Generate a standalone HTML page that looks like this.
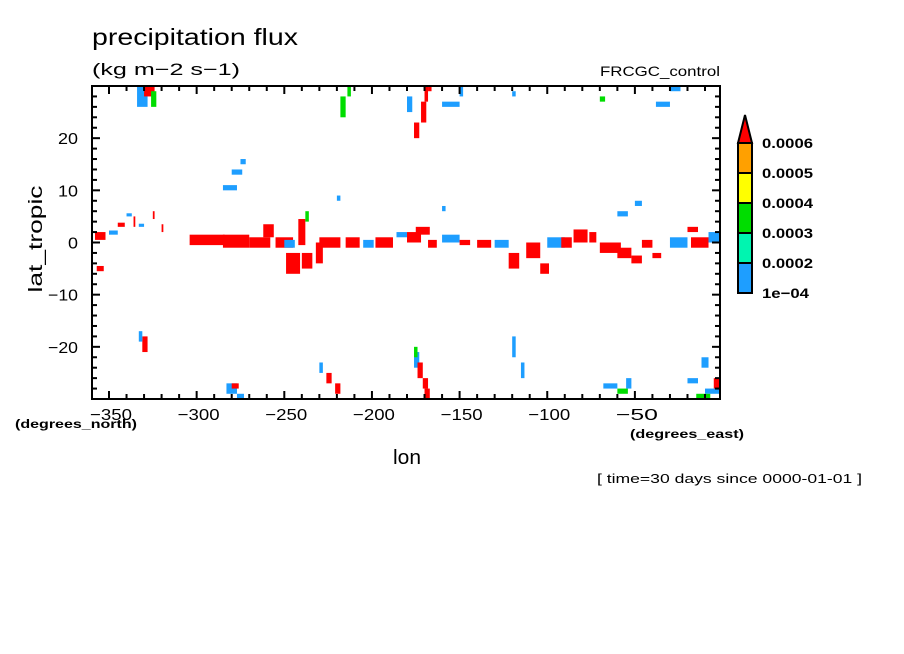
<!DOCTYPE html>
<html><head><meta charset="utf-8"><style>
html,body{margin:0;padding:0;background:#fff;}
svg{display:block;font-family:"Liberation Sans",sans-serif;}
</style></head><body>
<svg id="chart" width="904" height="654" viewBox="0 0 904 654">
<rect x="0" y="0" width="904" height="654" fill="#fff"/>
<text x="92" y="45" font-size="23" textLength="206" lengthAdjust="spacingAndGlyphs">precipitation flux</text>
<text x="92" y="75" font-size="17" textLength="148" lengthAdjust="spacingAndGlyphs">(kg m−2 s−1)</text>
<text x="600" y="76" font-size="14" textLength="120" lengthAdjust="spacingAndGlyphs">FRCGC_control</text>
<g id="cells"></g>
<g id="axes"></g>
<rect x="92" y="86" width="628" height="313" fill="none" stroke="#000" stroke-width="2"/>
<text x="42" y="239" font-size="19" text-anchor="middle" textLength="107" lengthAdjust="spacingAndGlyphs" transform="rotate(-90 42 239)">lat_tropic</text>
<text x="15" y="428" font-size="12" font-weight="bold" textLength="122" lengthAdjust="spacingAndGlyphs">(degrees_north)</text>
<text x="630" y="438" font-size="12" font-weight="bold" textLength="114" lengthAdjust="spacingAndGlyphs">(degrees_east)</text>
<text x="393" y="464" font-size="20" textLength="28" lengthAdjust="spacingAndGlyphs">lon</text>
<text x="597" y="483" font-size="13" textLength="265" lengthAdjust="spacingAndGlyphs">[ time=30 days since 0000-01-01 ]</text>
<g id="legend"></g>
</svg>
<script>
const levelColors = ["#1e9eff","#00f5b0","#00dd00","#ffff00","#ffa000","#ff0000"];
const levelLabels = ["1e-04","0.0002","0.0003","0.0004","0.0005","0.0006"];
const xTicks = [-350,-300,-250,-200,-150,-100,-50];
const yTicks = [-20,-10,0,10,20];
// patches: lon (west edge), lat (south edge), width (deg lon), height (deg lat), level 1..6
const patchLon = [-358,-357,-350,-345,-340,-336,-333,-325,-320,-304,-285,-270,-262,-255,-250,-242,-238,-249,-240,-232,-230,-215,-205,-198,-186,-180,-175,-168,-160,-150,-140,-130,-122,-112,-104,-100,-92,-85,-76,-70,-60,-52,-46,-40,-30,-18,-8,-20,
 -334,-330,-326,-218,-214,-176,-172,-170,-168,-180,-160,-150,-120,-70,-38,-30,-285,-280,-275,-220,-160,-60,-50,
 -331,-333,-283,-280,-277,-230,-226,-221,-176,-174,-171,-170,-176,-120,-115,-68,-60,-55,-20,-10,-12,-5,-15];
const patchLat = [0.5,-5.5,1.5,3,5,3,3,4.5,2,-0.5,-1,-1,1,-1,-1,-0.5,4,-6,-5,-4,-1,-1,-1,-1,1,0,1.5,-1,0,-0.5,-1,-1,-5,-3,-6,-1,-1,0,0,-2,-3,-4,-1,-3,-1,-1,0,2,
 26,28,26,24,28,20,23,27,29,25,26,28,28,27,26,29,10,13,15,8,6,5,7,
 -21,-19,-29,-28,-30,-25,-27,-29,-24,-26,-28,-30,-22,-22,-26,-28,-29,-28,-27,-29,-24,-28,-30];
const patchW = [6,4,5,4,3,1,3,1,1,20,15,12,6,10,6,4,2,8,6,4,12,8,6,10,6,8,8,5,10,6,8,8,6,8,5,10,6,8,4,12,8,6,6,5,10,10,6,6,
 6,6,3,3,2,3,3,2,2,3,10,2,2,3,8,6,8,6,3,2,2,6,4,
 3,2,6,4,4,2,3,3,3,3,3,3,2,2,2,8,6,3,6,8,4,3,8];
const patchH = [1.5,1,0.8,0.8,0.6,2,0.6,1.5,1.5,2,2.5,2,2.5,2,1.5,5,2,4,3,4,2,2,1.5,2,1,2,1.5,1.5,1.5,1,1.5,1.5,3,3,2,2,2,2.5,2,2,2,1.5,1.5,1,2,2,2,1,
 4,2,3,4,2,3,4,3,1,3,1,2,1,1,1,1,1,1,1,1,1,1,1,
 3,2,2,1,1,2,2,2,3,3,2,2,2,4,3,1,1,2,1,1,2,2,1];
const patchLevel = [6,6,1,6,1,6,1,6,6,6,6,6,6,6,1,6,3,6,6,6,6,6,1,6,1,6,6,6,1,6,6,1,6,6,6,1,6,6,6,6,6,6,6,6,1,6,1,6,
 1,6,3,3,3,6,6,6,6,1,1,1,1,3,1,1,1,1,1,1,1,1,1,
 6,1,1,6,1,1,6,6,1,6,6,6,3,1,1,1,3,1,1,1,1,6,3];

const PX0=92, PX1=720, PY0=86, PY1=399;
const LON0=-359.7, LON1=-1.45, LAT0=-30, LAT1=30;
function xScale(v){return PX0+(v-LON0)/(LON1-LON0)*(PX1-PX0);}
function yScale(v){return PY1-(v-LAT0)/(LAT1-LAT0)*(PY1-PY0);}
const NS="http://www.w3.org/2000/svg";
function mk(tag,attrs,parent){const e=document.createElementNS(NS,tag);for(const k in attrs)e.setAttribute(k,attrs[k]);parent.appendChild(e);return e;}

const cells=document.getElementById('cells');
for(let i=0;i<patchLon.length;i++){
  const x0=Math.max(PX0,xScale(patchLon[i])), x1=Math.min(PX1,xScale(patchLon[i]+patchW[i]));
  const y0=Math.max(PY0,yScale(patchLat[i]+patchH[i])), y1=Math.min(PY1,yScale(patchLat[i]));
  const r=mk('rect',{x:x0,y:y0,width:Math.max(1,x1-x0),height:Math.max(1,y1-y0),fill:levelColors[patchLevel[i]-1]},cells);
  
  
}

const axes=document.getElementById('axes');
for(let v=-350;v<=-10;v+=10){
  const x=xScale(v), major=(v%50===0);
  const L=major?8:5;
  mk('line',{x1:x,y1:PY1,x2:x,y2:PY1-L,stroke:'#000','stroke-width':2},axes);
  mk('line',{x1:x,y1:PY0,x2:x,y2:PY0+L,stroke:'#000','stroke-width':2},axes);
}
for(let v=-28;v<=28;v+=2){
  const y=yScale(v), major=(v%10===0);
  const L=major?8:5;
  mk('line',{x1:PX0,y1:y,x2:PX0+L,y2:y,stroke:'#000','stroke-width':2},axes);
  mk('line',{x1:PX1,y1:y,x2:PX1-L,y2:y,stroke:'#000','stroke-width':2},axes);
}
xTicks.forEach(v=>{
  const t=mk('text',{x:xScale(v)+2,y:420,'font-size':16,'text-anchor':'middle',textLength:42,lengthAdjust:'spacingAndGlyphs'},axes);
  t.textContent=String(v).replace('-','−');
  
  
});
yTicks.forEach(v=>{
  const s=String(v).replace('-','−');
  const t=mk('text',{x:78,y:yScale(v)+6,'font-size':16,'text-anchor':'end',textLength:s.length*10,lengthAdjust:'spacingAndGlyphs'},axes);
  t.textContent=s;
  
  
});

const legend=document.getElementById('legend');
const LX=738, LW=14, LTOP=143, LH=30;
for(let i=0;i<5;i++){
  const y=LTOP+(4-i)*LH;
  const r=mk('rect',{x:LX,y:y,width:LW,height:LH,fill:levelColors[i],stroke:'#000','stroke-width':2},legend);
  
  
}
const tri=mk('polygon',{points:`${LX},${LTOP} ${LX+LW},${LTOP} ${LX+LW/2},${LTOP-28}`,fill:levelColors[5],stroke:'#000','stroke-width':2},legend);


levelLabels.forEach((s,i)=>{
  const t=mk('text',{x:762,y:LTOP+(5-i)*LH+5,'font-size':14,'font-weight':'bold',textLength:(i===0?47:51),lengthAdjust:'spacingAndGlyphs'},legend);
  t.textContent=s.replace('-','−');
  
  
});
</script>
</body></html>
